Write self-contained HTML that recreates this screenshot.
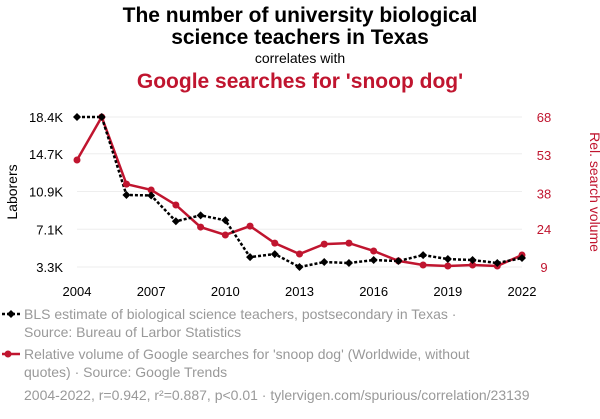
<!DOCTYPE html>
<html><head><meta charset="utf-8">
<style>
body{margin:0;background:#fff;width:600px;height:414px;overflow:hidden;font-family:"Liberation Sans",sans-serif}
</style></head>
<body>
<svg id="chart" width="600" height="414" xmlns="http://www.w3.org/2000/svg" font-family="Liberation Sans, sans-serif">
<text x="300" y="22" text-anchor="middle" font-size="21" font-weight="bold" fill="#000">The number of university biological</text>
<text x="300" y="44" text-anchor="middle" font-size="21" font-weight="bold" fill="#000">science teachers in Texas</text>
<text x="300" y="63" text-anchor="middle" font-size="14" fill="#000">correlates with</text>
<text x="300" y="88" text-anchor="middle" font-size="21" font-weight="bold" fill="#c0152f">Google searches for 'snoop dog'</text>
<text transform="translate(17,192) rotate(-90)" text-anchor="middle" font-size="14" fill="#000">Laborers</text>
<text transform="translate(590,192) rotate(90)" text-anchor="middle" font-size="14" fill="#c0152f">Rel. search volume</text>
<g id="grid"></g><g id="axes"></g><g id="series"></g>
<line x1="2" y1="314" x2="20" y2="314" stroke="#000" stroke-width="2.5" stroke-dasharray="3,2"/>
<path d="M11 310 L15 314 L11 318 L7 314Z" fill="#000"/>
<text x="24" y="319" font-size="14" fill="#999">BLS estimate of biological science teachers, postsecondary in Texas ·</text>
<text x="24" y="337" font-size="14" fill="#999">Source: Bureau of Larbor Statistics</text>
<line x1="2" y1="354" x2="20" y2="354" stroke="#c0152f" stroke-width="2.5"/>
<circle cx="8" cy="354" r="3.5" fill="#c0152f"/>
<text x="24" y="359" font-size="14" fill="#999">Relative volume of Google searches for 'snoop dog' (Worldwide, without</text>
<text x="24" y="377" font-size="14" fill="#999">quotes) · Source: Google Trends</text>
<text x="24" y="400" font-size="14" fill="#999">2004-2022, r=0.942, r²=0.887, p&lt;0.01 · tylervigen.com/spurious/correlation/23139</text>
</svg>
<script>
const years=[2004,2005,2006,2007,2008,2009,2010,2011,2012,2013,2014,2015,2016,2017,2018,2019,2020,2021,2022];
const laborers=[18.4,18.4,10.55,10.5,7.9,8.5,8.0,4.3,4.6,3.3,3.8,3.7,4.0,3.9,4.5,4.1,4.0,3.7,4.2];
const searches=[51.1,68,41.6,39.3,33.4,24.7,21.6,25.1,18.4,14.1,18,18.4,15.3,11.4,9.8,9.4,9.8,9.4,13.7];
const xTicks=[2004,2007,2010,2013,2016,2019,2022];
const leftTicks=[3.3,7.1,10.9,14.7,18.4];
const leftTickLabels=["3.3K","7.1K","10.9K","14.7K","18.4K"];
const rightTicks=[9,24,38,53,68];
const NS="http://www.w3.org/2000/svg";
const X=v=>77+(v-2004)/18*445;
const YL=v=>267-(v-3.3)/(18.4-3.3)*150;
const YR=v=>267-(v-9)/(68-9)*150;
function mk(t,a,p){const e=document.createElementNS(NS,t);for(const k in a)e.setAttribute(k,a[k]);p.appendChild(e);return e;}
const grid=document.getElementById('grid'),axes=document.getElementById('axes'),ser=document.getElementById('series');
leftTicks.forEach((v,i)=>{
 const g=mk('line',{x1:77,x2:522,y1:YL(v),y2:YL(v),stroke:'#eee','stroke-width':1},grid);
 
 
 const t=mk('text',{x:63,y:YL(v)+5,'text-anchor':'end','font-size':13,fill:'#000'},axes);t.textContent=leftTickLabels[i];
 
 
});
rightTicks.forEach(v=>{
 const t=mk('text',{x:544,y:YR(v)+5,'text-anchor':'middle','font-size':13,fill:'#c0152f'},axes);t.textContent=v;
 
 
});
xTicks.forEach(v=>{
 const t=mk('text',{x:X(v),y:296,'text-anchor':'middle','font-size':13,fill:'#000'},axes);t.textContent=v;
 
 
});
const rl=mk('polyline',{points:years.map((y,i)=>X(y)+','+YR(searches[i])).join(' '),fill:'none',stroke:'#c0152f','stroke-width':2.5},ser);


const bl=mk('polyline',{points:years.map((y,i)=>X(y)+','+YL(laborers[i])).join(' '),fill:'none',stroke:'#000','stroke-width':2.5,'stroke-dasharray':'3,2'},ser);


years.forEach((y,i)=>{
 const c=mk('circle',{cx:X(y),cy:YR(searches[i]),r:3.5,fill:'#c0152f'},ser);
 
 
 const x=X(y),yy=YL(laborers[i]);
 const d=mk('path',{d:`M${x} ${yy-4}L${x+4} ${yy}L${x} ${yy+4}L${x-4} ${yy}Z`,fill:'#000'},ser);
 
 
});
</script>
</body></html>
